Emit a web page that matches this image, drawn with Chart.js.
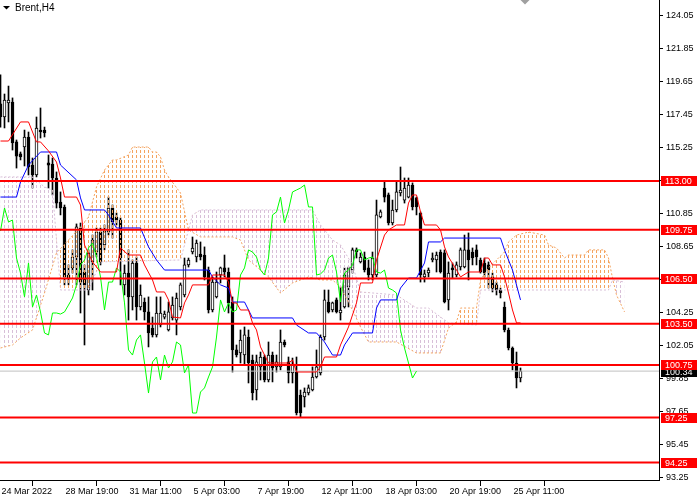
<!DOCTYPE html>
<html lang="en">
<head>
<meta charset="UTF-8">
<title>Brent, H4</title>
<script src="https://cdn.jsdelivr.net/npm/chart.js@4.4.0/dist/chart.umd.min.js"></script>
<style>
  html, body { margin: 0; padding: 0; background: #fff; }
  #wrap { width: 700px; height: 500px; }
</style>
</head>
<body>
<div id="wrap"><canvas id="chart"></canvas></div>
<script>
// H4 candles, one value per bar (bar 0 = 24 Mar 2022)
const opens = [
  118.13,117.26,118.19,118.26,115.60,114.80,115.26,115.93,114.06,113.40,
  116.39,116.39,114.20,114.13,113.20,111.60,111.27,106.74,107.21,107.94,
  109.87,106.94,105.74,107.61,108.27,109.60,108.74,109.60,111.20,110.60,
  110.40,106.08,106.87,105.28,107.54,104.61,104.94,104.28,103.21,102.75,
  103.41,103.94,103.08,103.88,103.74,104.61,105.41,107.41,108.27,107.94,
  108.14,108.07,107.07,104.41,105.28,106.74,107.21,106.94,104.94,101.75,
  101.55,101.41,102.61,101.08,99.08,100.62,101.28,99.75,101.41,100.62,
  100.62,102.28,100.95,100.22,100.28,98.75,98.62,98.88,99.08,99.95,
  100.22,102.61,104.94,104.41,105.08,104.21,104.61,105.94,107.07,108.41,
  107.61,107.94,107.21,106.74,106.74,110.60,112.53,112.07,110.20,111.07,
  112.20,111.73,111.93,112.73,111.87,110.87,106.61,106.87,107.74,107.74,
  108.27,108.21,105.08,107.21,106.74,107.27,107.27,108.41,108.27,108.41,
  107.74,107.54,107.41,106.61,106.08,105.74,104.61,103.08,101.88,100.88,99.88
];
const highs = [
  120.06,118.79,119.32,118.53,115.73,114.93,116.39,116.26,114.53,117.26,
  117.86,116.59,114.73,114.53,113.60,112.27,111.40,107.41,108.41,110.14,
  110.20,107.41,108.41,109.40,109.87,109.87,110.07,111.93,111.40,110.87,
  110.54,107.41,108.41,107.74,107.94,106.08,105.21,105.28,103.94,105.28,
  105.28,104.34,104.94,105.28,105.54,106.21,107.87,107.87,109.27,109.07,
  108.94,108.61,107.27,106.61,106.94,107.27,108.07,107.21,105.28,102.08,
  103.08,103.28,103.08,101.41,101.41,101.61,101.41,102.28,101.61,101.41,
  103.08,102.41,101.28,101.21,101.28,99.08,99.22,99.42,100.62,101.75,
  102.75,105.74,105.74,104.94,105.21,105.94,107.21,107.27,108.54,108.54,
  108.21,108.27,107.74,108.27,111.73,111.07,112.93,112.20,111.73,112.93,
  113.93,113.20,113.20,112.87,111.93,110.94,107.07,107.21,108.21,108.27,
  108.41,108.41,107.61,107.54,107.61,108.54,109.40,109.54,108.54,108.74,
  107.87,107.87,107.61,106.87,106.27,105.87,104.94,103.21,101.95,101.61,100.55
];
const lows = [
  116.59,116.53,116.93,115.06,113.86,114.40,114.00,113.40,112.53,113.27,
  115.86,115.93,112.53,112.07,111.20,110.74,106.08,106.08,106.87,106.08,
  104.21,102.08,105.41,105.74,107.94,107.41,108.41,109.40,109.20,110.07,
  106.08,105.41,103.74,104.41,103.74,104.41,103.74,101.95,102.61,102.61,
  103.28,103.81,103.01,103.74,102.75,104.41,105.28,107.27,108.14,107.61,
  107.74,106.41,104.21,104.28,105.21,106.21,106.61,104.21,100.28,101.28,
  100.88,100.75,99.55,98.42,98.42,99.75,99.62,99.62,99.62,100.28,
  100.42,101.95,99.55,99.55,97.42,97.29,97.95,98.75,99.02,99.88,
  100.08,102.41,104.21,104.28,104.21,103.74,104.54,104.61,106.87,107.87,
  107.54,106.94,106.41,106.41,106.61,110.54,111.60,110.07,110.07,110.94,
  112.00,111.53,111.87,111.07,110.74,106.27,106.27,106.61,107.61,106.94,
  106.87,104.88,104.41,106.54,106.61,107.07,107.21,106.41,107.41,107.41,
  106.87,106.61,105.87,105.61,105.41,105.21,102.95,101.75,100.42,99.22,99.62
];
const closes = [
  117.26,118.39,118.39,115.53,114.66,114.60,115.93,113.93,113.40,116.53,
  116.26,116.20,114.06,113.20,111.53,111.20,106.61,106.54,107.94,109.94,
  106.27,106.08,108.21,109.07,109.60,107.61,109.67,111.20,110.27,110.40,
  107.87,106.87,105.28,107.54,104.61,105.41,104.28,102.88,102.75,104.21,
  104.21,104.14,104.28,104.74,105.21,106.08,107.41,107.74,108.54,108.87,
  107.94,106.61,104.41,106.27,106.27,107.21,106.94,104.88,101.75,101.41,
  102.41,102.75,100.88,98.88,100.95,101.28,99.75,101.41,100.55,100.95,
  102.28,102.08,100.22,100.75,97.55,97.55,98.95,99.22,99.95,100.62,
  102.61,105.08,104.28,104.88,104.28,104.41,106.74,107.21,108.41,108.27,
  107.94,107.07,106.74,107.87,110.74,110.94,111.93,110.20,111.07,112.27,
  112.40,112.53,112.73,111.27,111.27,106.74,106.81,107.07,107.87,108.07,
  106.94,104.94,106.87,107.07,107.41,108.41,108.41,107.74,107.87,107.94,
  106.94,106.87,107.07,105.87,105.74,105.54,103.08,101.88,100.88,99.88,100.34
];

// Ichimoku lines as [bar, price] vertices
const tenkan = [
  [0,115.66],[2,115.66],[5,116.93],[7,116.93],[9,115.60],[10,115.60],[12,115.00],[14,114.26],
  [15,113.20],[16,111.93],[19,111.93],[20,111.40],[21,108.74],[23,107.61],[25,106.94],[29,106.94],
  [30,108.54],[32,108.07],[35,108.07],[36,107.41],[38,106.41],[39,105.61],[41,105.61],[42,105.08],
  [43,103.94],[45,103.88],[46,104.88],[47,105.41],[48,106.08],[52,106.08],[53,106.74],[56,106.74],
  [57,106.27],[58,104.88],[59,104.88],[60,104.41],[62,104.41],[63,103.55],[64,103.08],[65,101.95],
  [67,100.88],[72,100.88],[73,101.08],[74,100.28],[79,100.28],[80,100.62],[81,101.28],[84,101.28],
  [85,102.08],[87,103.28],[89,104.88],[90,106.21],[93,106.21],[94,107.74],[96,109.40],[97,109.74],
  [99,110.07],[101,110.07],[102,111.53],[103,112.07],[104,112.07],[105,110.94],[106,110.07],[109,110.07],
  [110,109.74],[111,108.61],[112,107.94],[114,107.07],[115,106.61],[117,106.94],[120,106.94],[121,107.87],
  [122,107.87],[123,107.41],[125,107.41],[126,106.61],[127,105.54],[128,104.41],[129,103.55],[130,103.55]
];
const kijun = [
  [0,111.93],[4,111.93],[5,112.93],[7,114.06],[10,114.93],[14,114.93],[15,114.06],[19,113.07],
  [20,111.87],[21,111.07],[26,111.07],[27,110.74],[29,109.87],[35,109.87],[37,108.61],[39,107.74],
  [41,107.07],[52,107.07],[53,106.61],[55,106.08],[57,105.87],[58,104.94],[61,104.94],[63,103.88],
  [73,103.88],[74,103.41],[77,102.88],[79,102.88],[81,102.28],[83,101.41],[85,101.41],[86,102.08],
  [88,102.88],[93,102.88],[94,104.54],[95,105.08],[99,105.08],[100,105.87],[102,106.54],[104,106.54],
  [106,107.54],[107,108.94],[110,108.94],[111,109.20],[125,109.20],[126,108.41],[128,107.07],[130,105.08]
];
const spanA = [
  [0,101.88],[3,102.08],[5,102.55],[8,103.08],[11,105.54],[14,108.21],[17,109.07],[20,109.94],
  [22,110.60],[24,112.60],[26,113.73],[28,114.40],[29,114.40],[32,114.73],[33,115.26],[37,115.26],
  [38,114.93],[39,114.93],[40,114.60],[41,113.73],[42,113.27],[45,112.20],[47,109.74],[50,109.27],
  [58,109.27],[60,109.07],[62,107.74],[65,107.07],[67,106.61],[70,105.54],[73,106.21],[77,106.61],
  [80,106.41],[83,106.41],[85,105.94],[88,104.41],[90,103.28],[92,102.28],[99,102.28],[104,101.55],
  [110,101.55],[112,103.21],[114,103.61],[115,104.54],[119,104.54],[120,106.41],[122,107.21],[126,108.27],
  [127,108.94],[129,109.40],[132,109.60],[136,109.40],[137,108.74],[139,108.54],[141,107.87],[142,108.07],
  [146,108.07],[147,108.41],[151,108.41],[152,107.87],[153,106.54],[154,105.41],[156,104.28]
];
const spanB = [
  [0,113.27],[8,113.27],[11,112.60],[13,112.40],[15,105.74],[22,105.74],[25,107.61],[45,107.74],
  [46,108.74],[48,110.74],[50,111.07],[78,111.07],[80,110.07],[83,109.07],[85,108.74],[88,107.41],
  [90,105.61],[99,105.41],[104,104.54],[107,104.54],[112,103.55],[119,103.41],[120,105.74],[152,105.74],
  [153,106.41],[156,106.27]
];
const chikouShift = 26;

const levels = [113.00, 109.75, 106.50, 103.50, 100.75, 97.25, 94.25];
const lastPrice = 100.34;
const priceTicks = [124.05,121.85,119.65,117.45,115.25,113.05,110.85,108.65,106.45,104.25,102.05,99.85,97.65,95.45,93.25];
const timeTickBars = [0, 16, 32, 48, 64, 80, 96, 112, 128];
const timeTickLabels = ['24 Mar 2022','28 Mar 19:00','31 Mar 11:00','5 Apr 03:00','7 Apr 19:00',
                        '12 Apr 11:00','18 Apr 03:00','20 Apr 19:00','25 Apr 11:00'];

const X_MIN = -0.125, X_MAX = 164.625;
const Y_MIN = 93.09, Y_MAX = 125.05;

const canvas = document.getElementById('chart');

function hatch(color) {
  const c = document.createElement('canvas');
  c.width = 4; c.height = 5;
  const g = c.getContext('2d');
  g.fillStyle = color;
  g.fillRect(0, 0, 1, 3);
  return canvas.getContext('2d').createPattern(c, 'repeat');
}

const pts = arr => arr.map(p => ({x: p[0], y: p[1]}));
const lineDs = (data, color, order, extra) => Object.assign({
  type: 'line', data, borderColor: color, borderWidth: 1,
  pointRadius: 0, tension: 0, fill: false, order
}, extra || {});

const datasets = [
  lineDs(pts(spanA), '#f4a460', 5, {
    borderDash: [2, 2],
    fill: {target: 1, above: hatch('#f4a460'), below: hatch('#d8bfd8')}
  }),
  lineDs(pts(spanB), '#d8bfd8', 5, {borderDash: [2, 2]}),
  lineDs(pts(tenkan), '#ff0000', 2),
  lineDs(pts(kijun), '#0000ff', 2),
  lineDs(closes.map((c, i) => ({x: i - chikouShift, y: c})).filter(p => p.x >= 0), '#00ff00', 3),
  lineDs([{x: X_MIN, y: lastPrice}, {x: X_MAX, y: lastPrice}], '#c0c0c0', 6),
  {
    type: 'bar', order: 7, grouped: false, barThickness: 3, minBarLength: 1,
    data: opens.map((o, i) => ({x: i, y: [o, closes[i]]})),
    backgroundColor: opens.map((o, i) => closes[i] >= o ? '#ffffff' : '#000000'),
    borderColor: '#000000', borderWidth: 1, borderSkipped: false
  },
  {
    type: 'bar', order: 8, grouped: false, barThickness: 1,
    data: highs.map((h, i) => ({x: i, y: [lows[i], h]})),
    backgroundColor: '#000000', borderWidth: 0
  }
];
levels.forEach(v => {
  datasets.push(lineDs([{x: X_MIN, y: v}, {x: X_MAX, y: v}], '#ff0000', 0, {borderWidth: 2}));
});

const overlay = {
  id: 'overlay',
  afterDraw(chart) {
    const {ctx, chartArea, scales: {x, y}} = chart;
    ctx.save();
    ctx.font = '9px "Liberation Sans", Arial, sans-serif';
    ctx.textBaseline = 'middle';
    ctx.textAlign = 'left';
    const tag = (v, bg, dy) => {
      const py = Math.round(y.getPixelForValue(v)) + dy;
      ctx.fillStyle = bg;
      ctx.fillRect(chartArea.right + 2, py - 5, 36, 10);
      ctx.fillStyle = '#ffffff';
      ctx.fillText(v.toFixed(2), chartArea.right + 6, py + 0.5);
    };
    // current price tag first, the level tags sit on top of it
    tag(lastPrice, '#000000', 1);
    levels.forEach(v => tag(v, '#ff0000', 0));

    // chart shift marker
    const sx = Math.round(x.getPixelForValue(opens.length));
    ctx.fillStyle = '#a0a0a0';
    ctx.beginPath();
    ctx.moveTo(sx - 4.5, 0); ctx.lineTo(sx + 4.5, 0); ctx.lineTo(sx, 4.5);
    ctx.closePath(); ctx.fill();

    // symbol caption
    ctx.fillStyle = '#000000';
    ctx.beginPath();
    ctx.moveTo(3, 6); ctx.lineTo(10, 6); ctx.lineTo(6.5, 9.5);
    ctx.closePath(); ctx.fill();
    ctx.font = '10px "Liberation Sans", Arial, sans-serif';
    ctx.fillText('Brent,H4', 15, 8.5);
    ctx.restore();
  }
};

Chart.defaults.font.family = '"Liberation Sans", Arial, sans-serif';
Chart.defaults.font.size = 9;
Chart.defaults.color = '#000000';

new Chart(canvas, {
  type: 'bar',
  data: {datasets},
  options: {
    responsive: true,
    maintainAspectRatio: false,
    animation: false,
    events: [],
    layout: {padding: 0},
    plugins: {legend: {display: false}, tooltip: {enabled: false}},
    scales: {
      x: {
        type: 'linear', min: X_MIN, max: X_MAX, offset: false,
        grid: {drawOnChartArea: false, tickLength: 6, color: '#000000'},
        border: {color: '#000000', width: 1},
        ticks: {
          autoSkip: false, maxRotation: 0, align: 'start', labelOffset: 1, padding: 0,
          callback: (v, i) => timeTickLabels[i]
        },
        afterBuildTicks: s => { s.ticks = timeTickBars.map(v => ({value: v})); },
        afterFit: s => { s.height = 20; s.paddingLeft = 0; s.paddingRight = 0; }
      },
      y: {
        type: 'linear', position: 'right', min: Y_MIN, max: Y_MAX,
        grid: {drawOnChartArea: false, tickLength: 4, color: '#000000'},
        border: {color: '#000000', width: 1},
        ticks: {autoSkip: false, padding: 3, callback: v => v.toFixed(2)},
        afterBuildTicks: s => { s.ticks = priceTicks.map(v => ({value: v})); },
        afterFit: s => { s.width = 41; s.paddingTop = 0; s.paddingBottom = 0; }
      }
    }
  },
  plugins: [overlay]
});
</script>
</body>
</html>
